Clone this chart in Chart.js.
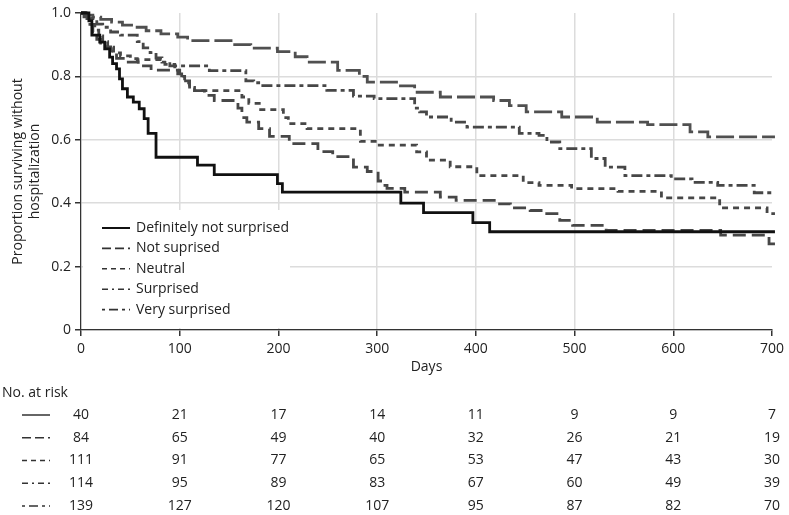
<!DOCTYPE html>
<html><head><meta charset="utf-8">
<script src="https://cdn.jsdelivr.net/npm/chart.js@4"></script>
<style>html,body{margin:0;padding:0;background:#fff;}#wrap{width:789px;height:515px;position:relative;}</style>
</head><body><div id="wrap"><canvas id="c" width="789" height="515"></canvas></div>
<script>
// ---- data ----
const seriesNames = ['Definitely not surprised', 'Not suprised', 'Neutral', 'Surprised', 'Very surprised'];

const timesDefNot = [0, 8, 11, 19, 24, 29, 32, 36, 39, 42, 47, 53, 59, 64, 68, 76, 118, 135, 199, 204, 324, 347, 397, 414, 703];
const survDefNot  = [1.0, 0.975, 0.93, 0.908, 0.887, 0.861, 0.84, 0.824, 0.792, 0.761, 0.735, 0.719, 0.698, 0.667, 0.62, 0.545, 0.52, 0.49, 0.462, 0.435, 0.40, 0.37, 0.339, 0.31, 0.31];

const timesNotSur = [0, 3, 6, 9, 12, 16, 20, 25, 30, 36, 45, 58, 71, 98, 102, 110, 125, 135, 159, 163, 168, 180, 191, 211, 240, 255, 276, 290, 301, 305, 310, 328, 364, 380, 421, 435, 455, 468, 485, 498, 532, 648, 697, 703];
const survNotSur  = [1.0, 0.988, 0.976, 0.964, 0.94, 0.917, 0.905, 0.893, 0.88, 0.857, 0.845, 0.833, 0.82, 0.808, 0.786, 0.755, 0.74, 0.724, 0.70, 0.67, 0.656, 0.635, 0.611, 0.588, 0.563, 0.547, 0.514, 0.50, 0.47, 0.456, 0.447, 0.435, 0.419, 0.409, 0.398, 0.385, 0.377, 0.367, 0.346, 0.33, 0.314, 0.299, 0.272, 0.272];

const timesNeutral = [0, 4, 8, 11, 14, 18, 22, 27, 33, 40, 50, 57, 85, 95, 100, 105, 110, 115, 163, 170, 182, 205, 210, 229, 283, 300, 340, 350, 374, 401, 448, 464, 497, 544, 588, 647, 695, 703];
const survNeutral  = [1.0, 0.991, 0.982, 0.964, 0.946, 0.928, 0.91, 0.892, 0.874, 0.865, 0.856, 0.853, 0.838, 0.82, 0.80, 0.78, 0.765, 0.755, 0.735, 0.715, 0.695, 0.67, 0.651, 0.635, 0.595, 0.583, 0.562, 0.536, 0.515, 0.487, 0.465, 0.456, 0.446, 0.437, 0.417, 0.385, 0.367, 0.367];

const timesSurpr = [0, 5, 10, 16, 22, 30, 40, 57, 63, 70, 76, 82, 90, 130, 167, 175, 180, 249, 276, 297, 338, 343, 350, 375, 391, 444, 464, 472, 485, 517, 531, 551, 598, 619, 645, 682, 703];
const survSurpr  = [1.0, 0.991, 0.982, 0.965, 0.955, 0.94, 0.93, 0.91, 0.89, 0.875, 0.858, 0.845, 0.833, 0.818, 0.786, 0.78, 0.771, 0.756, 0.738, 0.73, 0.70, 0.688, 0.672, 0.656, 0.64, 0.62, 0.614, 0.593, 0.572, 0.541, 0.514, 0.487, 0.477, 0.466, 0.456, 0.433, 0.433];

const timesVery = [0, 5, 12, 20, 31, 42, 54, 66, 81, 98, 108, 152, 172, 199, 217, 229, 260, 282, 290, 322, 338, 364, 418, 434, 451, 487, 523, 574, 617, 635, 703];
const survVery  = [1.0, 0.993, 0.987, 0.98, 0.971, 0.962, 0.955, 0.944, 0.934, 0.924, 0.913, 0.90, 0.889, 0.878, 0.862, 0.845, 0.819, 0.80, 0.782, 0.77, 0.75, 0.735, 0.724, 0.708, 0.688, 0.672, 0.656, 0.648, 0.625, 0.609, 0.609];

const xTicks = [0, 100, 200, 300, 400, 500, 600, 700];
const yTicks = [0, 0.2, 0.4, 0.6, 0.8, 1.0];

const riskTimes  = [0, 100, 200, 300, 400, 500, 600, 700];
const riskDefNot = [40, 21, 17, 14, 11, 9, 9, 7];
const riskNotSur = [84, 65, 49, 40, 32, 26, 21, 19];
const riskNeutral= [111, 91, 77, 65, 53, 47, 43, 30];
const riskSurpr  = [114, 95, 89, 83, 67, 60, 49, 39];
const riskVery   = [139, 127, 120, 107, 95, 87, 82, 70];

// ---- styles ----
const FONT = '"Open Sans", "Noto Sans", sans-serif';
const lineColors = ['#111111', '#474747', '#474747', '#474747', '#505050'];
const lineDashes = [[], [13, 6], [6, 5], [11, 4, 4, 4], [18, 5]];
const legendDashes = [[], [9, 4], [5, 4], [6, 4, 2, 4], [3, 4, 9, 4]];

const allTimes = [timesDefNot, timesNotSur, timesNeutral, timesSurpr, timesVery];
const allSurv = [survDefNot, survNotSur, survNeutral, survSurpr, survVery];
const allRisk = [riskDefNot, riskNotSur, riskNeutral, riskSurpr, riskVery];

const datasets = seriesNames.map((name, i) => ({
  label: name,
  data: allTimes[i].map((t, j) => ({x: t, y: allSurv[i][j]})),
  borderColor: lineColors[i],
  borderWidth: 2.8,
  borderDash: lineDashes[i],
  stepped: 'before',
  pointRadius: 0,
  fill: false,
  clip: {left: 2, top: 4, right: 5, bottom: 2}
}));

const legendPlugin = {
  id: 'innerLegend',
  afterDatasetsDraw(chart) {
    const ctx = chart.ctx;
    ctx.save();
    ctx.fillStyle = '#ffffff';
    ctx.fillRect(83, 210, 207, 118);
    ctx.font = '14px ' + FONT;
    ctx.textBaseline = 'middle';
    ctx.textAlign = 'left';
    seriesNames.forEach((name, i) => {
      const y = 228 + i * 20.4;
      ctx.strokeStyle = i === 0 ? '#111' : '#333';
      ctx.lineWidth = i === 0 ? 2 : 1.6;
      ctx.setLineDash(legendDashes[i]);
      ctx.beginPath(); ctx.moveTo(102, y); ctx.lineTo(130, y); ctx.stroke();
      ctx.setLineDash([]);
      ctx.fillStyle = '#222';
      ctx.fillText(name, 136, y);
    });
    ctx.restore();
  }
};

const riskPlugin = {
  id: 'riskTable',
  afterDraw(chart) {
    const ctx = chart.ctx, xs = chart.scales.x;
    ctx.save();
    ctx.font = '14px ' + FONT;
    ctx.fillStyle = '#222';
    ctx.textBaseline = 'middle';
    ctx.textAlign = 'left';
    ctx.fillText('No. at risk', 2, 393);
    allRisk.forEach((row, i) => {
      const y = 415 + i * 22.75;
      ctx.strokeStyle = '#333';
      ctx.lineWidth = 1.5;
      ctx.setLineDash(legendDashes[i]);
      ctx.beginPath(); ctx.moveTo(22, y); ctx.lineTo(50, y); ctx.stroke();
      ctx.setLineDash([]);
      ctx.textAlign = 'center';
      ctx.fillStyle = '#222';
      row.forEach((v, j) => ctx.fillText(String(v), xs.getPixelForValue(riskTimes[j]), y));
    });
    ctx.restore();
  }
};

new Chart(document.getElementById('c'), {
  type: 'line',
  data: { datasets },
  options: {
    responsive: false,
    animation: false,
    devicePixelRatio: 1,
    layout: { padding: { left: 0, right: 15, top: 13, bottom: 137 } },
    plugins: { legend: { display: false }, tooltip: { enabled: false } },
    scales: {
      x: {
        type: 'linear', min: 0, max: 700,
        afterBuildTicks: s => { s.ticks = xTicks.map(v => ({value: v})); },
        afterFit: s => { s.height = 48; },
        ticks: { color: '#222', font: { family: FONT, size: 14 }, padding: 5, maxRotation: 0 },
        grid: { color: c => (c.tick && c.tick.value === 700) ? 'rgba(0,0,0,0)' : '#dcdcdc', lineWidth: 1.5, tickColor: '#333', tickLength: 6 },
        border: { display: true, color: '#333', width: 1.2 },
        title: { display: true, text: 'Days', color: '#222', font: { family: FONT, size: 14 }, padding: { top: 0, bottom: 3 } }
      },
      y: {
        min: 0, max: 1,
        afterBuildTicks: s => { s.ticks = yTicks.map(v => ({value: v})); },
        afterFit: s => { s.width = 81; },
        ticks: { color: '#222', font: { family: FONT, size: 14 }, padding: 4, callback: v => v === 0 ? '0' : v.toFixed(1) },
        grid: { color: c => (c.tick && c.tick.value === 1) ? 'rgba(0,0,0,0)' : '#dcdcdc', lineWidth: 1.5, tickColor: '#333', tickLength: 6 },
        border: { display: true, color: '#333', width: 1.2 },
        title: { display: true, text: ['Proportion surviving without', 'hospitalization'], color: '#222', font: { family: FONT, size: 14, lineHeight: 1.2 }, padding: { top: 10, bottom: 0 } }
      }
    }
  },
  plugins: [legendPlugin, riskPlugin]
});
</script>
</body></html>
